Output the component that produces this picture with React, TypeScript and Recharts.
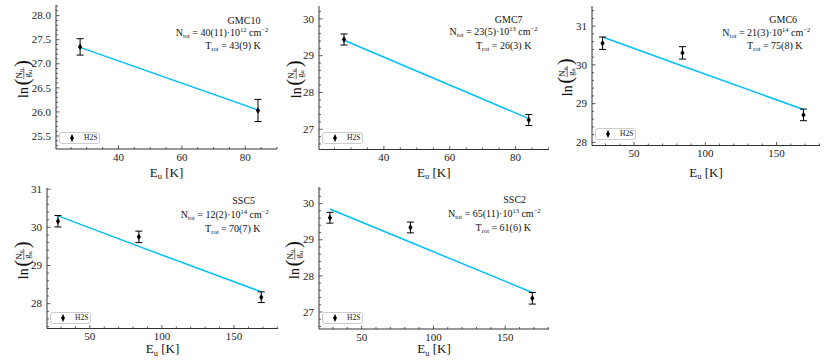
import React from "react";
import { ComposedChart, Scatter, Line, XAxis, YAxis, ErrorBar, Legend } from "recharts";

const FONT = '"Liberation Serif", "DejaVu Serif", serif';
const FIT_COLOR = "#00bfff";
const FRAME = "#333";

// upper level energies (K)
const euTwo = [27.9, 84.0];
const euThree = [27.9, 84.0, 168.9];

// ln(Nu/gu) points, errors and rotational fit, per source
const gmc10Ln = [27.35, 26.03];
const gmc10Err = [0.17, 0.23];
const gmc10Fit = [27.34, 26.04];

const gmc7Ln = [29.44, 27.25];
const gmc7Err = [0.15, 0.15];
const gmc7Fit = [29.42, 27.29];

const gmc6Ln = [30.56, 30.31, 28.71];
const gmc6Err = [0.16, 0.16, 0.15];
const gmc6Fit = [30.72, 29.97, 28.85];

const ssc5Ln = [30.16, 29.75, 28.17];
const ssc5Err = [0.15, 0.15, 0.14];
const ssc5Fit = [30.3, 29.5, 28.31];

const ssc2Ln = [29.61, 29.34, 27.38];
const ssc2Err = [0.15, 0.15, 0.16];
const ssc2Fit = [29.85, 28.93, 27.54];

// tick labels
const xMajorShort = [40, 60, 80];
const xMajorLong = [50, 100, 150];
const yMajorGmc10 = [25.5, 26.0, 26.5, 27.0, 27.5, 28.0];
const yMajorGmc7 = [27, 28, 29, 30];
const yMajorGmc6 = [28, 29, 30, 31];
const yMajorSsc5 = [28, 29, 30, 31];
const yMajorSsc2 = [27, 28, 29, 30];

const withMinors = (lo: number, hi: number, step: number) => {
  const out: number[] = [];
  for (let k = Math.ceil(lo / step - 1e-9); k * step <= hi + 1e-9; k++) {
    out.push(+(k * step).toFixed(4));
  }
  return out;
};

const isMajor = (v: number, majors: number[]) => majors.some((m) => Math.abs(m - v) < 1e-6);

const rows = (eu: number[], ln: number[], err: number[]) =>
  eu.map((e, i) => ({ eu: e, ln: ln[i], err: err[i] }));
const fitRows = (eu: number[], fit: number[]) => eu.map((e, i) => ({ eu: e, fit: fit[i] }));

const panels = [
  {
    name: "GMC10", mant: "40(11)", exp: "12", trot: "43(9)",
    points: rows(euTwo, gmc10Ln, gmc10Err), fit: fitRows(euTwo, gmc10Fit),
    box: [56, 5, 277, 149], xDomain: [20.3, 90], yDomain: [25.23, 28.22],
    xMajor: xMajorShort, xStep: 5, yMajor: yMajorGmc10, yStep: 0.1, yDec: 1,
    txt: [244, 222, 233, 23.5, 35.5, 48.5], yLabX: 28.3, xLabY: 176.7,
  },
  {
    name: "GMC7", mant: "23(5)", exp: "13", trot: "26(3)",
    points: rows(euTwo, gmc7Ln, gmc7Err), fit: fitRows(euTwo, gmc7Fit),
    box: [319, 5.5, 548.5, 149], xDomain: [20.3, 90], yDomain: [26.45, 30.35],
    xMajor: xMajorShort, xStep: 5, yMajor: yMajorGmc7, yStep: 0.2, yDec: 0,
    txt: [508.7, 493.5, 503.7, 23.3, 35, 48.5], yLabX: 300.7, xLabY: 176.7,
  },
  {
    name: "GMC6", mant: "21(3)", exp: "14", trot: "75(8)",
    points: rows(euThree, gmc6Ln, gmc6Err), fit: fitRows(euThree, gmc6Fit),
    box: [592, 5.5, 820, 145], xDomain: [20.5, 180.5], yDomain: [27.92, 31.52],
    xMajor: xMajorLong, xStep: 10, yMajor: yMajorGmc6, yStep: 0.2, yDec: 0,
    txt: [783.2, 766.3, 774.8, 23.3, 35.5, 48.5], yLabX: 571.7, xLabY: 176.7,
  },
  {
    name: "SSC5", mant: "12(2)", exp: "14", trot: "70(7)",
    points: rows(euThree, ssc5Ln, ssc5Err), fit: fitRows(euThree, ssc5Fit),
    box: [47, 188, 278, 328.5], xDomain: [20.3, 180.5], yDomain: [27.35, 31.03],
    xMajor: xMajorLong, xStep: 10, yMajor: yMajorSsc5, yStep: 0.2, yDec: 0,
    txt: [243.7, 224.7, 232.8, 203.5, 218, 232], yLabX: 28.3, xLabY: 353.3,
  },
  {
    name: "SSC2", mant: "65(11)", exp: "13", trot: "61(6)",
    points: rows(euThree, ssc2Ln, ssc2Err), fit: fitRows(euThree, ssc2Fit),
    box: [319, 187, 549, 329], xDomain: [20.3, 180.5], yDomain: [26.53, 30.46],
    xMajor: xMajorLong, xStep: 10, yMajor: yMajorSsc2, yStep: 0.2, yDec: 0,
    txt: [514.7, 494.3, 503.3, 203.3, 216.7, 231], yLabX: 299.3, xLabY: 353.3,
  },
];

const L = 45;
const T = 4;
const R = 4;
const B = 22;
const MAJOR_LEN = 3.5;
const MINOR_LEN = 2;

function ThinDiamond(props: any) {
  const { cx, cy } = props;
  if (cx == null || cy == null) return null;
  return <path d={`M${cx},${cy - 3.2}L${cx + 2.1},${cy}L${cx},${cy + 3.2}L${cx - 2.1},${cy}Z`} fill="#000" />;
}

function LegendBox() {
  return (
    <div
      style={{
        width: 41, height: 12, boxSizing: "border-box", border: "1px solid #cccccc",
        borderRadius: 3, background: "#fff", position: "relative", fontFamily: FONT,
      }}
    >
      <svg width={20} height={12} style={{ position: "absolute", left: 4, top: -1 }}>
        <line x1={8} x2={8} y1={2.5} y2={9.5} stroke="#000" strokeWidth={1} />
        <path d="M8,2.8L10,6L8,9.2L6,6Z" fill="#000" />
      </svg>
      <span style={{ position: "absolute", left: 24, top: 0, fontSize: 7.5, lineHeight: "10px", color: "#222" }}>H2S</span>
    </div>
  );
}

function Panel({ p }: { p: (typeof panels)[number] }) {
  const [bl, bt, br, bb] = p.box;
  const w = br - bl + L + R;
  const h = bb - bt + T + B;
  const xTicks = withMinors(p.xDomain[0], p.xDomain[1], p.xStep);
  const yTicks = withMinors(p.yDomain[0], p.yDomain[1], p.yStep);

  const bottomTick = (t: any) => {
    const major = isMajor(t.payload.value, p.xMajor);
    return (
      <g>
        <line x1={t.x} x2={t.x} y1={t.y} y2={t.y - (major ? MAJOR_LEN : MINOR_LEN)} stroke={FRAME} strokeWidth={0.8} />
        {major && (
          <text x={t.x} y={t.y + 11.5} textAnchor="middle" fontSize={11} style={{ fontFamily: FONT }} fill="#222">
            {t.payload.value}
          </text>
        )}
      </g>
    );
  };
  const topTick = (t: any) => {
    const major = isMajor(t.payload.value, p.xMajor);
    return <line x1={t.x} x2={t.x} y1={t.y} y2={t.y + (major ? MAJOR_LEN : MINOR_LEN)} stroke={FRAME} strokeWidth={0.8} />;
  };
  const leftTick = (t: any) => {
    const major = isMajor(t.payload.value, p.yMajor);
    return (
      <g>
        <line x1={t.x} x2={t.x + (major ? MAJOR_LEN : MINOR_LEN)} y1={t.y} y2={t.y} stroke={FRAME} strokeWidth={0.8} />
        {major && (
          <text x={t.x - 5} y={t.y + 3.7} textAnchor="end" fontSize={11} style={{ fontFamily: FONT }} fill="#222">
            {Number(t.payload.value).toFixed(p.yDec)}
          </text>
        )}
      </g>
    );
  };
  const rightTick = (t: any) => {
    const major = isMajor(t.payload.value, p.yMajor);
    return <line x1={t.x} x2={t.x - (major ? MAJOR_LEN : MINOR_LEN)} y1={t.y} y2={t.y} stroke={FRAME} strokeWidth={0.8} />;
  };

  return (
    <div style={{ position: "absolute", left: bl - L, top: bt - T, width: w, height: h }}>
      <ComposedChart width={w} height={h} margin={{ top: T, right: R, bottom: 0, left: 0 }}>
        <XAxis
          xAxisId={0} dataKey="eu" type="number" domain={p.xDomain} allowDataOverflow
          ticks={xTicks} interval={0} height={B} tickSize={0} tickMargin={0} tickLine={false}
          axisLine={{ stroke: FRAME, strokeWidth: 1 }} tick={bottomTick}
        />
        <XAxis
          xAxisId="top" orientation="top" dataKey="eu" type="number" domain={p.xDomain} allowDataOverflow
          ticks={xTicks} interval={0} height={0} tickSize={0} tickMargin={0} tickLine={false}
          axisLine={{ stroke: FRAME, strokeWidth: 1 }} tick={topTick}
        />
        <YAxis
          yAxisId={0} dataKey="ln" type="number" domain={p.yDomain} allowDataOverflow
          ticks={yTicks} interval={0} width={L} tickSize={0} tickMargin={0} tickLine={false}
          axisLine={{ stroke: FRAME, strokeWidth: 1 }} tick={leftTick}
        />
        <YAxis
          yAxisId="right" orientation="right" type="number" domain={p.yDomain} allowDataOverflow
          ticks={yTicks} interval={0} width={0} tickSize={0} tickMargin={0} tickLine={false}
          axisLine={{ stroke: FRAME, strokeWidth: 1 }} tick={rightTick}
        />
        <Line
          data={p.fit} dataKey="fit" xAxisId={0} yAxisId={0} stroke={FIT_COLOR} strokeWidth={1.5}
          dot={false} activeDot={false} isAnimationActive={false}
        />
        <Scatter data={p.points} dataKey="ln" xAxisId={0} yAxisId={0} shape={ThinDiamond} isAnimationActive={false}>
          <ErrorBar dataKey="err" direction="y" width={3.5} stroke="#000" strokeWidth={1} />
        </Scatter>
        <Legend
          layout="vertical" verticalAlign="middle" align="center"
          wrapperStyle={{ left: L + 3, top: T + (bb - bt) - 17, width: 41, height: 12 }}
          content={() => <LegendBox />}
        />
      </ComposedChart>
    </div>
  );
}

function PanelText({ p }: { p: (typeof panels)[number] }) {
  const [bl, bt, br, bb] = p.box;
  const [nx, ntx, tx, ny, nty, ty] = p.txt;
  const cy = (bt + bb) / 2;
  return (
    <g fill="#111" style={{ whiteSpace: "pre", fontFamily: FONT }}>
      <text x={nx} y={ny} textAnchor="middle" fontSize={10}>{p.name}</text>
      <text x={ntx} y={nty} textAnchor="middle" fontSize={10}>
        N<tspan fontSize={6.5} dy={2}>tot</tspan>
        <tspan dy={-2}>{" = " + p.mant + "·10"}</tspan>
        <tspan fontSize={6.5} dy={-4}>{p.exp}</tspan>
        <tspan dy={4}>{" cm"}</tspan>
        <tspan fontSize={6.5} dy={-4}>{"−2"}</tspan>
      </text>
      <text x={tx} y={ty} textAnchor="middle" fontSize={10}>
        T<tspan fontSize={6.5} dy={2}>rot</tspan>
        <tspan dy={-2}>{" = " + p.trot + " K"}</tspan>
      </text>
      <text x={(bl + br) / 2} y={p.xLabY} textAnchor="middle" fontSize={13}>
        E<tspan fontSize={8.5} dy={2.5}>u</tspan>
        <tspan dy={-2.5}>{" [K]"}</tspan>
      </text>
      <g transform={`translate(${p.yLabX}, ${cy}) rotate(-90)`}>
        <text x={-21} y={0} fontSize={14}>ln</text>
        <text x={-8.5} y={0.5} fontSize={21}>(</text>
        <text x={-1.5} y={-6.5} fontSize={9}>
          N<tspan fontSize={6} dy={1.5}>u</tspan>
        </text>
        <line x1={-2} x2={9.5} y1={-4.5} y2={-4.5} stroke="#111" strokeWidth={0.6} />
        <text x={-0.5} y={1.8} fontSize={9}>
          g<tspan fontSize={6} dy={1.5}>u</tspan>
        </text>
        <text x={10} y={0.5} fontSize={21}>)</text>
      </g>
    </g>
  );
}

export default function App() {
  return (
    <div style={{ position: "absolute", left: 0, top: 0, width: 830, height: 360, background: "#fff", overflow: "hidden", fontFamily: FONT }}>
      {panels.map((p) => (
        <Panel key={p.name} p={p} />
      ))}
      <svg width={830} height={360} style={{ position: "absolute", left: 0, top: 0, pointerEvents: "none" }}>
        {panels.map((p) => (
          <PanelText key={p.name} p={p} />
        ))}
      </svg>
    </div>
  );
}
